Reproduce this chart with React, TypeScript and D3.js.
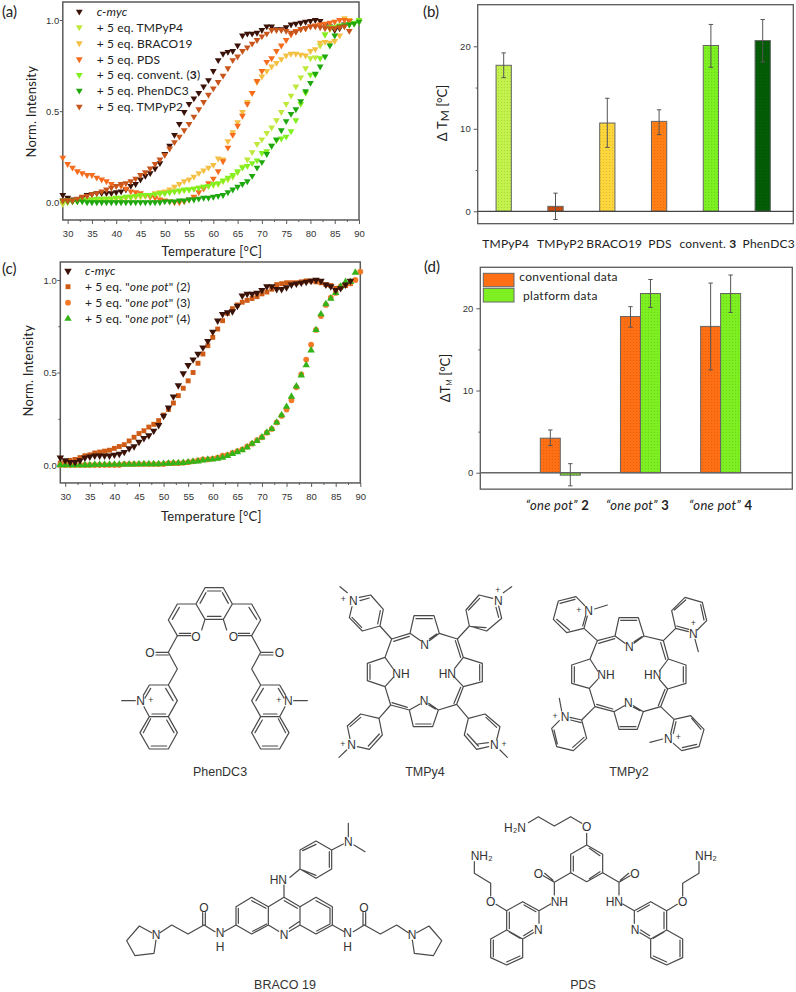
import React from "react";
import * as d3 from "d3";

// melting curves, one value per degree starting at 29 C
const startTemp = 29;
const cMyc = [.04,.025,.015,.015,.025,.04,.045,.05,.05,.05,.05,.055,.06,.07,.09,.10,.125,.145,.16,.185,.215,.265,.31,.37,.43,.495,.54,.57,.60,.635,.67,.72,.78,.815,.825,.83,.86,.915,.925,.925,.93,.945,.965,.965,.95,.95,.96,.975,.98,.985,.99,.995,1.0,.995,.975,.965,.945,.955,.975,.995];
const tmpyp4 = [-.01,0,.005,.005,.01,.01,.01,.015,.015,.015,.02,.02,.02,.025,.025,.03,.03,.035,.04,.04,.045,.05,.055,.06,.06,.065,.07,.075,.08,.085,.09,.095,.10,.115,.125,.14,.165,.195,.235,.275,.32,.345,.38,.41,.45,.495,.54,.585,.635,.685,.735,.79,.795,.86,.92,.95,.96,.965,.97,.975,.98,.99];
const braco19 = [0,.005,.005,.01,.01,.01,.015,.015,.015,.02,.02,.02,.02,.025,.03,.03,.035,.035,.04,.05,.055,.06,.07,.085,.10,.115,.125,.14,.16,.175,.19,.205,.24,.235,.335,.385,.44,.495,.55,.60,.66,.69,.72,.745,.765,.785,.805,.815,.815,.81,.805,.83,.84,.875,.88,.875,.885,.915,1.01,1.0];
const pds = [.245,.21,.19,.17,.16,.15,.15,.135,.125,.115,.10,.09,.09,.075,.06,.055,.05,.04,.03,.025,.015,.01,.005,0,0,.005,.015,.03,.055,.075,.105,.13,.17,.225,.30,.37,.42,.475,.54,.60,.665,.72,.77,.79,.83,.86,.89,.92,.94,.95,.955,.965,.97,.975,.98,.985,.99,1.0,1.0,.995];
const convent3 = [.005,.01,.01,.01,.015,.015,.015,.02,.02,.02,.02,.025,.025,.03,.03,.035,.04,.04,.04,.045,.05,.05,.055,.06,.065,.07,.07,.075,.08,.085,.09,.10,.105,.12,.135,.15,.17,.19,.20,.215,.23,.27,.28,.31,.34,.35,.36,.39,.45,.54,.60,.70,.70,.79,.92,.96,.96,.97,.97,.975,.985,1.0];
const phenDC3 = [.01,.005,.005,.005,.005,0,0,0,0,0,0,0,0,0,0,0,0,0,0,0,0,.005,.005,.005,.01,.01,.015,.015,.02,.025,.025,.03,.035,.04,.055,.07,.085,.10,.115,.145,.19,.22,.265,.31,.345,.395,.445,.485,.51,.555,.61,.655,.705,.745,.80,.86,.915,.965,.97,.975,.98,.99];
const tmpyp2 = [.01,.01,.01,.02,.03,.035,.045,.05,.06,.07,.08,.09,.10,.105,.115,.13,.15,.165,.185,.21,.235,.26,.295,.33,.36,.395,.43,.47,.51,.55,.59,.625,.66,.695,.735,.78,.80,.83,.85,.87,.89,.91,.925,.945,.945,.945,.94,.93,.935,.95,.955,.965,.965,.96,.955,.955,.955,.96,.965,.94];
const onePot2 = [.01,.015,.025,.03,.04,.05,.055,.065,.07,.075,.08,.09,.10,.11,.13,.15,.17,.185,.205,.22,.24,.27,.30,.335,.375,.415,.455,.50,.55,.60,.645,.69,.735,.78,.82,.845,.865,.88,.89,.90,.91,.925,.935,.95,.975,.98,.985,.985,.985,.99,.995,.995,.99,.985,.975,.97,.955,.96,.97,.98];
const onePot3 = [0,0,0,0,0,0,0,0,0,0,0,0,0,.005,.005,.005,.005,.005,.005,.005,.005,.005,.01,.01,.01,.012,.015,.02,.025,.03,.03,.035,.04,.05,.055,.065,.075,.085,.10,.115,.135,.15,.175,.195,.23,.265,.30,.35,.42,.49,.57,.65,.73,.805,.865,.905,.93,.965,.975,.985,1.0,1.045];
const onePot4 = [0,0,0,0,0,0,0,.002,.002,.002,.002,.003,.003,.003,.004,.004,.005,.005,.005,.005,.005,.007,.008,.01,.01,.012,.015,.018,.02,.025,.03,.03,.035,.04,.05,.06,.07,.08,.095,.115,.13,.15,.175,.195,.23,.27,.315,.37,.425,.485,.54,.62,.73,.815,.87,.90,.93,.965,.99,.99,1.04];

const barCompounds = ["TMPyP4", "TMPyP2", "BRACO19", "PDS", "convent.", "PhenDC3"];
const barValues = [17.7, 0.6, 10.7, 10.9, 20.1, 20.7];
const barLow = [16.2, -1, 7.75, 9.3, 17.45, 18.1];
const barHigh = [19.2, 2.2, 13.7, 12.3, 22.65, 23.25];
const barColors = ["#c4f24c", "#c84b0c", "#fdd63c", "#ff7f14", "#7cf020", "#045c06"];
const barLabelShift = [2, 5, 7, 1, -3, 6];

const onePotGroups = ["2", "3", "4"];
const conventional = [4.2, 19, 17.8];
const conventionalLow = [3.3, 17.7, 12.5];
const conventionalHigh = [5.2, 20.2, 23.07];
const platform = [-0.3, 21.8, 21.8];
const platformLow = [-1.6, 20.1, 19.5];
const platformHigh = [1.1, 23.5, 24.05];

const curveTicks = d3.range(30, 91, 5);
const curveMinor = d3.range(32.5, 90, 5);
const intensityTicks = [0, 0.5, 1];
const intensityMinor = [0.25, 0.75];
const deltaTicks = [0, 10, 20];
const deltaMinor = [5, 15];

const textFont = "Lato, 'Open Sans', sans-serif";
const tickFont = "'Liberation Sans', Arial, sans-serif";
const axisGray = "#5a5a5a";

const Axis = ({ axis, transform, size = 9.5 }: { axis: any; transform: string; size?: number }) => (
  <g
    transform={transform}
    ref={(el) => {
      if (!el) return;
      const g = d3.select(el);
      g.call(axis);
      g.select(".domain").remove();
      g.selectAll("line").attr("stroke", axisGray).attr("stroke-width", 1);
      g.selectAll("text").attr("font-family", tickFont).attr("font-size", size).attr("fill", "#333");
    }}
  />
);

const triDown = d3.symbol(d3.symbolTriangle, 20)() as string;
const triDownBig = d3.symbol(d3.symbolTriangle, 24)() as string;
const triUp = d3.symbol(d3.symbolTriangle, 24)() as string;
const square = d3.symbol(d3.symbolSquare, 24)() as string;
const circle = d3.symbol(d3.symbolCircle, 26)() as string;

type Series = { values: number[]; color: string; d: string; rot: number; label: React.ReactNode };

const panelA: Series[] = [
  { values: cMyc, color: "#3a1208", d: triDown, rot: 180, label: <tspan fontStyle="italic">c-myc</tspan> },
  { values: tmpyp4, color: "#c0e83c", d: triDown, rot: 180, label: "+ 5 eq. TMPyP4" },
  { values: braco19, color: "#f4c044", d: triDown, rot: 180, label: "+ 5 eq. BRACO19" },
  { values: pds, color: "#f56c1e", d: triDown, rot: 180, label: "+ 5 eq. PDS" },
  { values: convent3, color: "#82f020", d: triDown, rot: 180, label: <>+ 5 eq. convent. (<tspan fontWeight="bold">3</tspan>)</> },
  { values: phenDC3, color: "#1ea80e", d: triDown, rot: 180, label: "+ 5 eq. PhenDC3" },
  { values: tmpyp2, color: "#c8561c", d: triDown, rot: 180, label: "+ 5 eq. TMPyP2" },
];

const onePotLabel = (n: string) => (
  <>+ 5 eq. "<tspan fontStyle="italic">one pot</tspan>" ({n})</>
);

const panelC: Series[] = [
  { values: onePot2, color: "#cf5c16", d: square, rot: 0, label: onePotLabel("2") },
  { values: onePot3, color: "#f47a28", d: circle, rot: 0, label: onePotLabel("3") },
  { values: onePot4, color: "#35b318", d: triUp, rot: 0, label: onePotLabel("4") },
  { values: cMyc, color: "#3a1208", d: triDownBig, rot: 180, label: <tspan fontStyle="italic">c-myc</tspan> },
];
// legend in (c) lists c-myc first
const panelCLegend = [panelC[3], panelC[0], panelC[1], panelC[2]];

const CurvePanel = ({
  series, legend, xRange, yRange, yDomain, frameTop, legendX, legendTextX, legendY, titleY, normX, normY, name, nameX, nameY, minor, xTickY, size,
}: {
  series: Series[]; legend: Series[]; xRange: [number, number]; yRange: [number, number]; yDomain: [number, number];
  frameTop: number; legendX: number; legendTextX: number; legendY: number[]; titleY: number; normX: number; normY: number;
  name: string; nameX: number; nameY: number; minor: boolean; xTickY: number; size: number;
}) => {
  const x = d3.scaleLinear([29, 90], xRange);
  const y = d3.scaleLinear(yDomain, yRange);
  const bottom = y(-0.097);
  return (
    <g>
      <rect x={x(29)} y={frameTop} width={x(90) - x(29)} height={bottom - frameTop} fill="none" stroke={axisGray} strokeWidth={1.5} />
      <Axis transform={`translate(0,${bottom})`} axis={d3.axisBottom(x).tickValues(curveTicks).tickSize(4).tickPadding(xTickY)} size={size} />
      <Axis transform={`translate(0,${bottom})`} axis={d3.axisBottom(x).tickValues(curveMinor).tickSize(2).tickFormat(() => "")} />
      <Axis transform={`translate(${x(29)},0)`} axis={d3.axisLeft(y).tickValues(intensityTicks).tickFormat(d3.format(".1f")).tickSize(3).tickPadding(0.5)} size={size} />
      {minor && <Axis transform={`translate(${x(29)},0)`} axis={d3.axisLeft(y).tickValues(intensityMinor).tickSize(2).tickFormat(() => "")} />}
      {series.map((s, i) => (
        <g key={i} fill={s.color}>
          {s.values.map((v, j) => (
            <path key={j} d={s.d} transform={`translate(${x(startTemp + j)},${y(v)}) rotate(${s.rot})`} />
          ))}
        </g>
      ))}
      {legend.map((s, i) => (
        <g key={i}>
          <path d={s.d} fill={s.color} transform={`translate(${legendX},${legendY[i]}) rotate(${s.rot})`} />
          <text x={legendTextX} y={legendY[i]} dy="0.35em" fontFamily={textFont} fontSize={12} letterSpacing={0.15} fill="#222">{s.label}</text>
        </g>
      ))}
      <text x={(x(29) + x(90)) / 2 + 1} y={titleY} textAnchor="middle" fontFamily={textFont} fontSize={13} letterSpacing={0.2} fill="#222">Temperature [°C]</text>
      <text transform={`translate(${normX},${normY}) rotate(-90)`} textAnchor="middle" fontFamily={textFont} fontSize={13} letterSpacing={0.2} fill="#222">Norm. Intensity</text>
      <text x={nameX} y={nameY} fontFamily={textFont} fontSize={15} fill="#222">{name}</text>
    </g>
  );
};

const ErrorBar = ({ x, low, high, y }: { x: number; low: number; high: number; y: (v: number) => number }) => (
  <g stroke="#555" strokeWidth={1}>
    <line x1={x} x2={x} y1={y(low)} y2={y(high)} />
    <line x1={x - 2.2} x2={x + 2.2} y1={y(low)} y2={y(low)} />
    <line x1={x - 2.2} x2={x + 2.2} y1={y(high)} y2={y(high)} />
  </g>
);

const PanelB = () => {
  const x = d3.scaleBand(barCompounds, [477.8, 788.6]).paddingInner(0.705).paddingOuter(0.3525);
  const y = d3.scaleLinear([0, 20], [211.3, 46.3]);
  const left = 477.7, right = 793.3, top = 4.7, bottom = y(-1.5);
  return (
    <g>
      <rect x={left} y={top} width={right - left} height={bottom - top} fill="none" stroke={axisGray} strokeWidth={1.3} />
      <Axis transform={`translate(${left},0)`} axis={d3.axisLeft(y).tickValues(deltaTicks).tickSize(4)} size={9.5} />
      <Axis transform={`translate(${left},0)`} axis={d3.axisLeft(y).tickValues(deltaMinor).tickSize(2).tickFormat(() => "")} />
      {barCompounds.map((c, i) => (
        <g key={c}>
          <rect x={x(c)} y={y(barValues[i])} width={x.bandwidth()} height={y(0) - y(barValues[i])} fill={barColors[i]} stroke="#666" strokeWidth={1} />
          <rect x={x(c)} y={y(barValues[i])} width={x.bandwidth()} height={y(0) - y(barValues[i])} fill="url(#dots)" />
          <ErrorBar x={(x(c) as number) + x.bandwidth() / 2} low={barLow[i]} high={barHigh[i]} y={y} />
          <text x={(x(c) as number) + x.bandwidth() / 2 + barLabelShift[i]} y={248} textAnchor="middle" fontFamily={textFont} fontSize={12} letterSpacing={0.2} fill="#222">
            {c}{c === "convent." && <tspan fontWeight="bold"> 3</tspan>}
          </text>
        </g>
      ))}
      <line x1={left} x2={right} y1={y(0)} y2={y(0)} stroke="#444" strokeWidth={1.3} />
      <text transform="translate(447,113) rotate(-90)" textAnchor="middle" fontFamily={textFont} fontSize={13} fill="#222">
        Δ T<tspan dy={2} fontSize={12}>M</tspan><tspan dy={-2}> [°C]</tspan>
      </text>
      <text x={423} y={17} fontFamily={textFont} fontSize={15} fill="#222">(b)</text>
    </g>
  );
};

const PanelD = () => {
  const groups = d3.scaleBand(onePotGroups, [520.3, 760.8]);
  const sides = d3.scaleBand(["conventional", "platform"], [0, 40]);
  const y = d3.scaleLinear([0, 20], [472.7, 308.3]);
  const left = 480.3, right = 792.3, top = 267.3, bottom = y(-2);
  const drawBar = (group: string, side: string, v: number, low: number, high: number, color: string) => {
    const bx = (groups(group) as number) + 20 + (sides(side) as number);
    return (
      <g key={group + side}>
        <rect x={bx} y={Math.min(y(v), y(0))} width={sides.bandwidth()} height={Math.abs(y(0) - y(v))} fill={color} stroke="#666" strokeWidth={1} />
        <rect x={bx} y={Math.min(y(v), y(0))} width={sides.bandwidth()} height={Math.abs(y(0) - y(v))} fill="url(#dots)" />
        <ErrorBar x={bx + sides.bandwidth() / 2} low={low} high={high} y={y} />
      </g>
    );
  };
  return (
    <g>
      <rect x={left} y={top} width={right - left} height={bottom - top} fill="none" stroke={axisGray} strokeWidth={1.3} />
      <Axis transform={`translate(${left},0)`} axis={d3.axisLeft(y).tickValues(deltaTicks).tickSize(4)} size={9.5} />
      <Axis transform={`translate(${left},0)`} axis={d3.axisLeft(y).tickValues(deltaMinor).tickSize(2).tickFormat(() => "")} />
      {onePotGroups.map((g, i) => (
        <g key={g}>
          {drawBar(g, "conventional", conventional[i], conventionalLow[i], conventionalHigh[i], "#ff6f14")}
          {drawBar(g, "platform", platform[i], platformLow[i], platformHigh[i], "#7ef022")}
          <text x={(groups(g) as number) + groups.bandwidth() / 2 - (i === 2 ? 0 : 3)} y={510} textAnchor="middle" fontFamily={textFont} fontSize={13} letterSpacing={0.3} fill="#222">
            <tspan fontStyle="italic">“one pot”</tspan><tspan fontWeight="bold"> {g}</tspan>
          </text>
        </g>
      ))}
      <line x1={left} x2={right} y1={y(0)} y2={y(0)} stroke="#666" strokeWidth={1.5} />
      <rect x={483.3} y={273.3} width={30.7} height={13.4} fill="#ff6f14" stroke="#666" />
      <rect x={483.3} y={288.3} width={30.7} height={13.7} fill="#7ef022" stroke="#666" />
      <text x={519.3} y={276.7} dy="0.35em" fontFamily={textFont} fontSize={12} letterSpacing={0.3} fill="#222">conventional data</text>
      <text x={523} y={295.7} dy="0.35em" fontFamily={textFont} fontSize={12} letterSpacing={0.3} fill="#222">platform data</text>
      <text transform="translate(450,378) rotate(-90)" textAnchor="middle" fontFamily={textFont} fontSize={13} fill="#222">
        ΔT<tspan dy={2} fontSize={7}>M</tspan><tspan dy={-2}> [°C]</tspan>
      </text>
      <text x={424} y={272} fontFamily={textFont} fontSize={15} fill="#222">(d)</text>
    </g>
  );
};

// structure drawings: bond paths and atom labels, in 3x crop units
type Atom = [string, number, number];

const Molecule = ({ dx, dy, bonds, side, mirrorX = 0, atoms, plus = [] }: {
  dx: number; dy: number; bonds: string; side?: string; mirrorX?: number; atoms: Atom[]; plus?: [number, number][];
}) => (
  <g transform={`translate(${dx},${dy}) scale(${1 / 3})`} fill="none" stroke="#4a4a4a" strokeWidth={3.6} strokeLinecap="round" strokeLinejoin="round">
    <path d={bonds} />
    {side && <path d={side} />}
    {side && <path d={side} transform={`translate(${2 * mirrorX},0) scale(-1,1)`} />}
    <g fill="#333" stroke="none" fontFamily={tickFont} fontSize={36} textAnchor="middle">
      {atoms.map(([t, x, y], i) => (
        <text key={i} x={x} y={y} dy="0.36em">{t}</text>
      ))}
      {plus.map(([x, y], i) => (
        <text key={i} x={x} y={y} dy="0.36em" fontSize={26}>+</text>
      ))}
    </g>
  </g>
);

const phenCore = "M255 143L310 143L337 192L310 238L255 238L228 192Z M262 153L303 153 M240 190L258 158 M325 190L307 158 M262 229L303 229 M228 192L172 192L145 240L172 287L212 287 M178 280L212 280 M178 202L157 238 M245 270L255 238 M337 192L395 192L422 240L395 287L355 287 M389 280L355 280 M387 202L410 238 M320 270L310 238";
const phenSide = "M172 287L145 337L172 387L145 435L88 435L70 466 M145 337L108 337 M145 345L108 345 M145 435L172 482L145 530L88 530L72 500 M137 445L159 482 M96 522L137 522 M88 530L60 578L88 627L145 627L172 578L145 530 M70 578L92 536 M94 618L140 618 M162 578L140 540 M92 445L75 474 M5 482L46 482";
const tmpy4Bonds = "M185 207L240 190L252 137L312 137L328 190L382 207L400 262L457 280L457 335L400 350L380 403L325 420L308 470L250 470L238 420L182 405L165 350L112 332L112 280L165 262L185 207 M191 214L238 199 M258 146L307 146 M240 190L272 212 M328 190L298 212 M320 192L298 207 M376 212L392 262 M449 284L449 331 M400 262L374 295 M400 350L374 322 M392 352L372 400 M257 462L303 462 M325 420L296 400 M238 420L270 402 M316 417L296 405 M232 412L186 398 M120 328L120 284 M165 262L190 297 M165 350L190 322 M185 207L150 168L160 118L122 75L88 82 M150 168L97 183L58 143L66 110 M143 162L151 122 M95 172L66 142 M90 92L118 84 M52 68L30 50 M382 207L418 168L408 120L447 75L488 85 M418 168L470 183L515 145L506 108 M416 120L449 85 M425 170L468 173 M506 142L498 112 M520 68L545 50 M182 405L147 445L92 432L52 468L60 506 M147 445L157 495L118 538L82 530 M92 442L60 470 M148 492L115 528 M50 540L27 562 M380 403L415 445L465 432L510 470L500 510 M415 445L403 495L440 538L476 530 M468 442L500 472 M412 492L445 528 M443 522L475 518 M510 540L532 562";
const tmpy2Bonds = "M292 302L345 288L357 233L415 233L432 288L490 302L505 357L558 375L558 430L503 447L482 500L430 515L412 568L357 568L342 515L285 500L268 445L215 430L215 375L270 357L292 302 M296 310L344 296 M362 241L410 241 M345 288L375 310 M432 288L402 310 M425 290L402 305 M482 308L497 358 M550 380L550 426 M505 357L478 393 M503 447L478 418 M495 448L475 497 M360 560L408 560 M430 515L400 497 M342 515L373 497 M420 512L400 502 M338 507L290 493 M223 427L223 380 M270 357L293 393 M268 445L293 418 M292 302L252 265L262 228 M252 265L200 278L160 238L175 183L228 170L254 197 M248 258L257 226 M208 270L170 238 M180 190L225 178 M284 207L322 195 M490 302L527 265L515 212L555 172L607 187L620 242L592 270 M527 265L565 275 M523 210L557 180 M602 194L612 240 M530 258L566 268 M585 298L595 335 M285 500L245 540L260 595L220 632L170 620L155 565L178 542 M245 540L210 532 M252 592L218 622 M172 612L162 570 M212 540L243 548 M185 513L178 475 M482 500L522 538L572 527L612 568L597 620L545 632L520 610 M522 538L512 582 M575 535L603 568 M590 613L547 623 M528 545L520 580 M488 597L450 607";
const bracoBonds = "M552 322L600 350L600 405L568 424 M552 322L505 350L505 405L536 424 M553 332L592 355 M597 395L568 415 M505 350L455 322L408 350L408 405L455 432L505 405 M415 355L415 400 M455 332L498 355 M458 424L500 402 M600 350L648 322L697 350L697 405L648 432L600 405 M648 332L690 355 M690 355L690 400 M650 423L690 402 M552 322L552 285 M570 262L600 237L600 180L648 153L695 180L695 237L648 265L600 237 M608 182L648 163 M688 185L688 232 M608 240L648 256 M695 180L730 162 M745 140L745 100 M762 165L795 185";
const bracoSide = "M408 405L372 425 M345 425L312 405 M308 405L308 368 M316 405L316 368 M312 405L264 432L215 405L180 428 M155 428L118 408L80 452L105 497L162 490L168 450";
const pdsCore = "M380 165L428 193L428 248L380 275L332 248L332 193Z M388 175L420 197 M340 198L340 243 M388 266L420 245 M380 165L380 130 M365 100L332 80L283 108L235 80L205 98";
const pdsSide = "M332 248L283 277L250 257 M279 271L254 250 M283 277L283 315 M272 342L237 362L188 335L140 362L140 420L188 447L220 428 M237 362L237 400 M192 345L228 365 M148 366L148 416 M191 437L218 420 M140 420L92 447L92 503L140 525L188 503L188 447 M100 450L100 500 M140 516L180 498 M148 426L180 445 M140 362L108 343 M92 318L92 280L43 250L43 215";

const App = () => (
  <svg width={796} height={992} style={{ position: "absolute", left: 0, top: 0, display: "block" }}>
    <defs>
      <pattern id="dots" width={3} height={3} patternUnits="userSpaceOnUse">
        <rect width={1} height={1} fill="#000" opacity={0.12} />
      </pattern>
    </defs>
    <rect width={796} height={992} fill="#fff" />
    <CurvePanel series={panelA} legend={panelA} xRange={[62.8, 359]} yRange={[202.3, 20]} yDomain={[0, 1]} frameTop={2}
      legendX={79.3} legendTextX={96.7} legendY={[11.7, 27.3, 43.3, 59.3, 75, 90.7, 106.7]} titleY={256} normX={36} normY={111.7}
      name="(a)" nameX={2} nameY={17} minor={false} xTickY={6} size={9.5} />
    <CurvePanel series={panelC} legend={panelCLegend} xRange={[60.3, 360.3]} yRange={[465, 280]} yDomain={[0, 1]} frameTop={262}
      legendX={68} legendTextX={85} legendY={[271, 286.7, 302.7, 318.7]} titleY={521} normX={33} normY={370.7}
      name="(c)" nameX={2} nameY={274} minor xTickY={6} size={9.5} />
    <PanelB />
    <PanelD />

    <Molecule dx={120} dy={540} bonds={phenCore} side={phenSide} mirrorX={283.5}
      atoms={[["O", 228, 291], ["O", 340, 291], ["O", 90, 339], ["O", 478, 339], ["N", 62, 482], ["N", 505, 482]]}
      plus={[[92, 480], [476, 480]]} />
    <Molecule dx={330} dy={570} bonds={tmpy4Bonds}
      atoms={[["N", 70, 92], ["N", 505, 92], ["N", 65, 525], ["N", 493, 525], ["N", 284, 225], ["N", 282, 392], ["NH", 213, 310], ["HN", 352, 310]]}
      plus={[[40, 88], [503, 60], [38, 522], [522, 522]]} />
    <Molecule dx={500} dy={540} bonds={tmpy2Bonds}
      atoms={[["N", 266, 212], ["N", 580, 282], ["N", 195, 530], ["N", 505, 597], ["N", 388, 320], ["N", 385, 488], ["NH", 318, 405], ["HN", 458, 405]]}
      plus={[[236, 210], [580, 250], [165, 527], [535, 592]]} />
    <Molecule dx={100} dy={790} bonds={bracoBonds} side={bracoSide} mirrorX={552.5}
      atoms={[["N", 552, 435], ["HN", 535, 268], ["N", 745, 155], ["N", 360, 428], ["H", 360, 471], ["N", 743, 428], ["H", 743, 471], ["O", 312, 352], ["O", 792, 352], ["N", 168, 435], ["N", 936, 435]]} />
    <Molecule dx={460} dy={790} bonds={pdsCore} side={pdsSide} mirrorX={380}
      atoms={[["O", 380, 110], ["H₂N", 165, 112], ["NH", 298, 335], ["HN", 463, 335], ["O", 235, 250], ["O", 525, 250], ["N", 235, 420], ["N", 525, 420], ["O", 92, 335], ["O", 668, 335], ["NH₂", 65, 197], ["NH₂", 738, 197]]} />

    <g fontFamily={tickFont} fontSize={12.5} fill="#333" textAnchor="middle">
      <text x={220} y={776}>PhenDC3</text>
      <text x={425} y={776}>TMPy4</text>
      <text x={629} y={776}>TMPy2</text>
      <text x={285} y={989}>BRACO 19</text>
      <text x={583} y={989}>PDS</text>
    </g>
  </svg>
);

export default App;
